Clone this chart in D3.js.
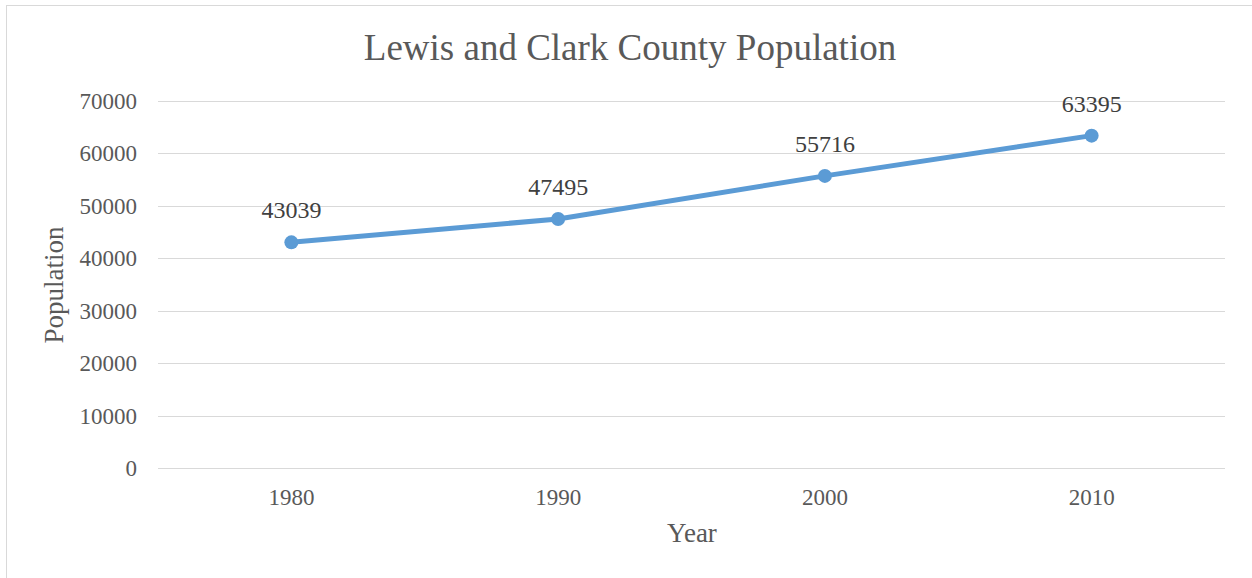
<!DOCTYPE html>
<html><head><meta charset="utf-8">
<script src="https://cdn.jsdelivr.net/npm/d3@7"></script>
<style>body{margin:0;background:#fff;}svg{display:block;}</style>
</head><body>
<svg id="c" width="1252" height="578"></svg>
<script>
const categories = ["1980", "1990", "2000", "2010"];
const population = [43039, 47495, 55716, 63395];
const yTicks = [0, 10000, 20000, 30000, 40000, 50000, 60000, 70000];

(function () {
const svg = d3.select("#c");
const font = "'Liberation Serif','Times New Roman',serif";
svg.append("rect").attr("x", 6.5).attr("y", 5.5).attr("width", 1260).attr("height", 600)
  .attr("fill", "#fff").attr("stroke", "#d9d9d9").attr("stroke-width", 1);

const pLeft = 158, pRight = 1225, pTop = 101, pBottom = 468;
const x = d3.scaleBand().domain(categories).range([pLeft, pRight]);
const y = d3.scaleLinear().domain([0, 70000]).range([pBottom, pTop]);

svg.append("g").selectAll("line").data(yTicks).join("line")
  .attr("x1", pLeft).attr("x2", pRight)
  .attr("y1", d => Math.round(y(d)) + 0.5).attr("y2", d => Math.round(y(d)) + 0.5)
  .attr("stroke", "#d9d9d9").attr("stroke-width", 1);

svg.append("g").selectAll("text").data(yTicks).join("text")
  .attr("x", 137).attr("y", d => y(d)).attr("dy", "0.35em")
  .attr("text-anchor", "end").attr("font-family", font).attr("font-size", 23)
  .attr("fill", "#595959").text(d => d);

svg.append("g").selectAll("text").data(categories).join("text")
  .attr("x", d => x(d) + x.bandwidth() / 2).attr("y", 497).attr("dy", "0.35em")
  .attr("text-anchor", "middle").attr("font-family", font).attr("font-size", 23)
  .attr("fill", "#595959").text(d => d);

svg.append("text").attr("x", 630).attr("y", 60).attr("text-anchor", "middle")
  .attr("font-family", font).attr("font-size", 37).attr("fill", "#595959")
  .text("Lewis and Clark County Population");

svg.append("text").attr("x", 692).attr("y", 542).attr("text-anchor", "middle")
  .attr("font-family", font).attr("font-size", 27).attr("fill", "#595959").text("Year");

svg.append("text").attr("transform", "translate(63,285) rotate(-90)").attr("text-anchor", "middle")
  .attr("font-family", font).attr("font-size", 27).attr("fill", "#595959").text("Population");

const pts = categories.map((c, i) => ({c, v: population[i]}));
const line = d3.line().x(d => x(d.c) + x.bandwidth() / 2).y(d => y(d.v));
svg.append("path").datum(pts).attr("d", line).attr("fill", "none")
  .attr("stroke", "#5b9bd5").attr("stroke-width", 5).attr("stroke-linejoin", "round").attr("stroke-linecap", "round");

svg.append("g").selectAll("circle").data(pts).join("circle")
  .attr("cx", d => x(d.c) + x.bandwidth() / 2).attr("cy", d => y(d.v)).attr("r", 7)
  .attr("fill", "#5b9bd5");

svg.append("g").selectAll("text").data(pts).join("text")
  .attr("x", d => x(d.c) + x.bandwidth() / 2).attr("y", d => y(d.v) - 24)
  .attr("text-anchor", "middle").attr("font-family", font).attr("font-size", 24)
  .attr("fill", "#404040").text(d => d.v);
})();
</script>
</body></html>
